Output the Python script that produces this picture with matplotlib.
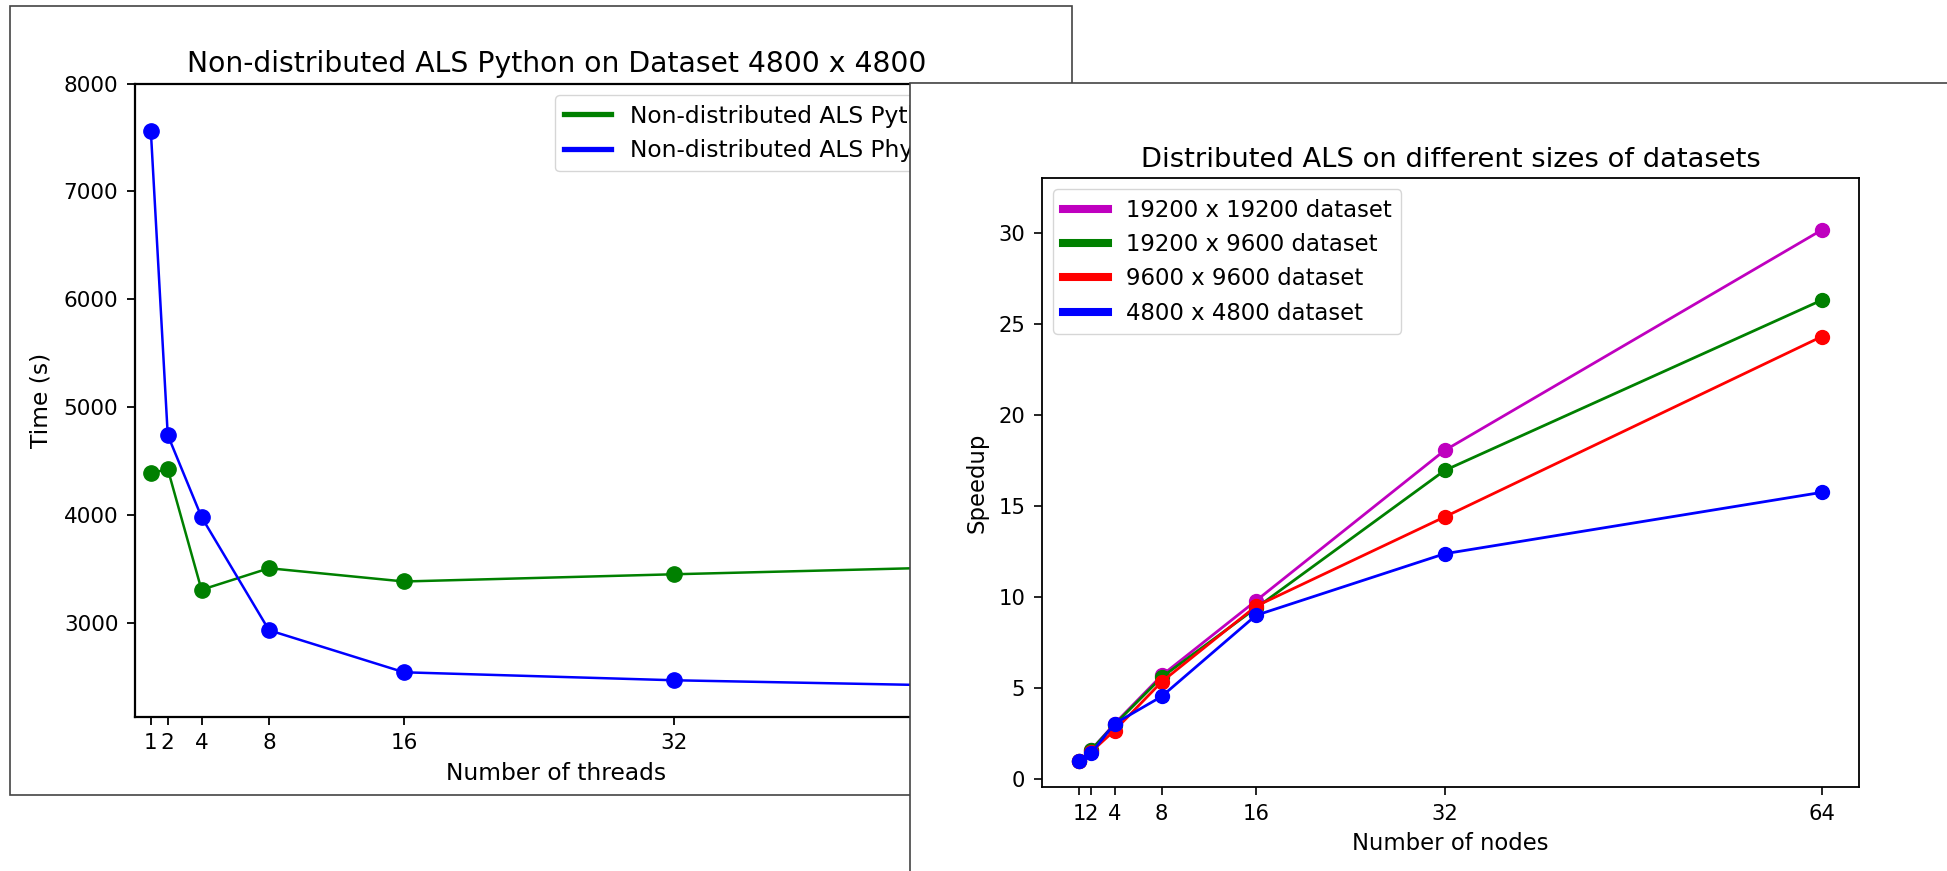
import matplotlib
matplotlib.use("Agg")
import matplotlib.pyplot as plt
from matplotlib.patches import Rectangle
from matplotlib.lines import Line2D

# left chart: non-distributed ALS, time vs threads
threads = [1, 2, 4, 8, 16, 32, 64]
time_python = [4385, 4425, 3305, 3505, 3382, 3449, 3575]
time_phython = [7555, 4740, 3980, 2930, 2540, 2466, 2370]
thread_ticks = [1, 2, 4, 8, 16, 32, 64]
left_labels = ["Non-distributed ALS Python", "Non-distributed ALS Physics"]

# right chart: distributed ALS speedup vs nodes
nodes = [1, 2, 4, 8, 16, 32, 64]
speed_19200x19200 = [1.0, 1.6, 3.05, 5.7, 9.8, 18.05, 30.15]
speed_19200x9600 = [1.0, 1.6, 3.0, 5.6, 9.4, 16.95, 26.3]
speed_9600x9600 = [1.0, 1.5, 2.68, 5.35, 9.5, 14.4, 24.3]
speed_4800x4800 = [1.0, 1.42, 3.05, 4.55, 9.0, 12.38, 15.75]
node_ticks = [1, 2, 4, 8, 16, 32, 64]
right_labels = ["19200 x 19200 dataset", "19200 x 9600 dataset",
                "9600 x 9600 dataset", "4800 x 4800 dataset"]

W, H = 1947, 871
fig = plt.figure(figsize=(W / 100, H / 100), dpi=100)
fig.patch.set_facecolor("white")

def frac(x0, y0, x1, y1):
    # pixel box (top-left origin) -> figure fraction rect
    return [x0 / W, 1 - y1 / H, (x1 - x0) / W, (y1 - y0) / H]

# outline of the first screenshot
fig.patches.append(Rectangle((10 / W, 1 - 795 / H), 1062 / W, 789 / H,
                             transform=fig.transFigure, fill=False,
                             edgecolor="#444444", linewidth=1.2, zorder=0.5))
# second screenshot pasted on top
fig.patches.append(Rectangle((910 / W, -0.05), 0.6, 1.05 - 83 / H,
                             transform=fig.transFigure, facecolor="white",
                             edgecolor="#444444", linewidth=1.2, zorder=1))

# ---- left chart
ax1 = fig.add_axes(frac(135, 83.5, 978, 716.5))
ax1.set_zorder(0)
ax1.plot(threads, time_python, color="g", marker="o", markersize=11, linewidth=1.8)
ax1.plot(threads, time_phython, color="b", marker="o", markersize=11, linewidth=1.8)
ax1.set_xticks(thread_ticks)
ax1.set_xticklabels([str(t) for t in thread_ticks])
ax1.set_xlim(0.06, 50)
ax1.set_ylim(2130, 8000)
ax1.set_title("Non-distributed ALS Python on Dataset 4800 x 4800", fontsize=20.3, pad=8)
ax1.set_xlabel("Number of threads", fontsize=16.8, labelpad=6)
ax1.set_ylabel("Time (s)", fontsize=16.8, labelpad=8)
ax1.tick_params(labelsize=15.5, length=6, width=1.3, pad=6)
for s in ax1.spines.values():
    s.set_linewidth(1.6)
h1 = [Line2D([], [], color=c, linewidth=3.8) for c in ["g", "b"]]
ax1.legend(h1, left_labels, loc="upper right", fontsize=16.8)

# ---- right chart
ax2 = fig.add_axes(frac(1042, 178, 1859, 787))
ax2.set_zorder(2)
series = [speed_19200x19200, speed_19200x9600, speed_9600x9600, speed_4800x4800]
colors = ["m", "g", "r", "b"]
for ys, c in zip(series, colors):
    ax2.plot(nodes, ys, color=c, marker="o", markersize=10, linewidth=2)
ax2.set_xticks(node_ticks)
ax2.set_xticklabels(["1", "2", "4", "8", "16", "32", "64"])
ax2.set_xlim(-2.15, 67.15)
ax2.set_ylim(-0.42, 33)
ax2.set_title("Distributed ALS on different sizes of datasets", fontsize=19.7, pad=8)
ax2.set_xlabel("Number of nodes", fontsize=16.4, labelpad=6)
ax2.set_ylabel("Speedup", fontsize=16.4, labelpad=7)
ax2.tick_params(labelsize=15.2, length=6, width=1.2, pad=6)
for s in ax2.spines.values():
    s.set_linewidth(1.3)
h2 = [Line2D([], [], color=c, linewidth=5.8) for c in colors]
ax2.legend(h2, right_labels, loc="upper left", fontsize=16.4)

plt.savefig("out.png", dpi=100)
